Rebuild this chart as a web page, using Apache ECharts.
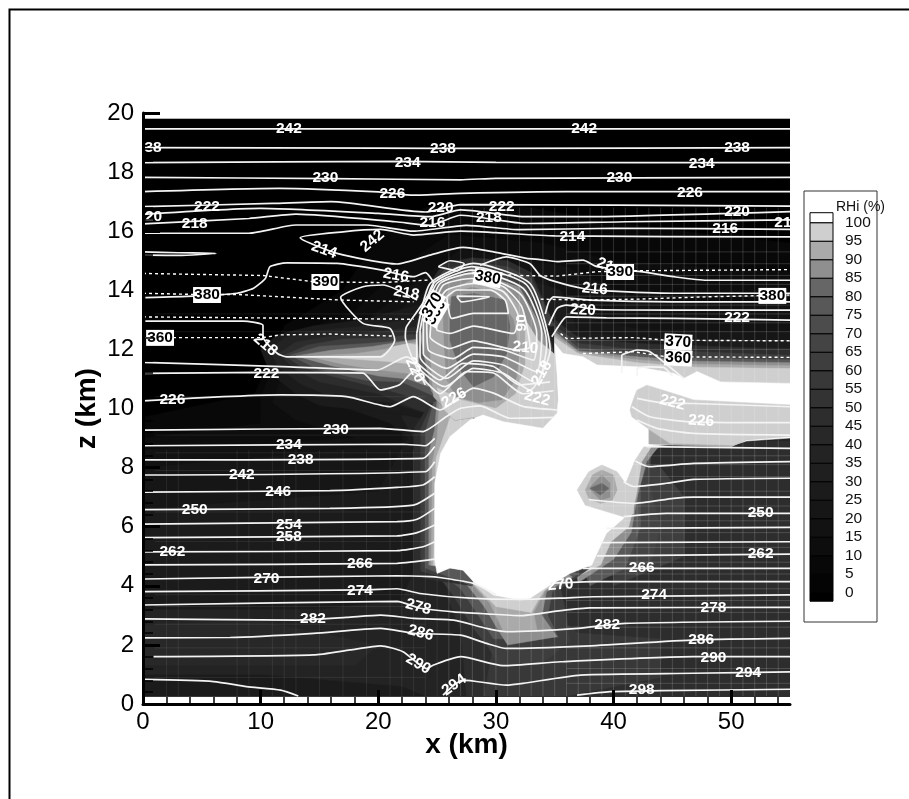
<!DOCTYPE html>
<html><head><meta charset="utf-8">
<style>html,body{margin:0;padding:0;background:#fff}#c{width:909px;height:799px}</style>
<script src="https://cdn.jsdelivr.net/npm/echarts@6/dist/echarts.min.js"></script>
</head><body><div id="c"></div>
<script>
// ---- axis ticks
const xMajor=[0,10,20,30,40,50];
const xMinor=[2,4,6,8,12,14,16,18,22,24,26,28,32,34,36,38,42,44,46,48,52,54];
// ---- grey value of each 5 % RHi class, from <0 to >100
const rhiLow=[-2.3,0,5,10,15,20,25,30,35,40,45,50,55,60,65,70,75,80,85,90,95,100];
const rhiHigh=[0,5,10,15,20,25,30,35,40,45,50,55,60,65,70,75,80,85,90,95,100,102.7];
const rhiGrey=['#000000','#040404','#080808','#0d0d0d','#121212','#161616','#1b1b1b','#1f1f1f','#232323','#282828','#2d2d2d','#333333','#383838','#3e3e3e','#444444','#4c4c4c','#585858','#666666','#8f8f8f','#aaaaaa','#cfcfcf','#ffffff'];
// ---- filled RHi regions, [rhi, outline in (x km, z km)], painted in order
const bgAll=[-1,[[0,.27],[55,.27],[55,19.8],[0,19.8]]];
const bg5=[7,[[0,.27],[55,.27],[55,15.6],[48,15.9],[40,16.3],[30,17],[24,16.8],[20,15.8],[17,14],[12,12.8],[9.5,10.5],[0,9.7]]];
const bg12=[12,[[0,.27],[55,.27],[55,14.6],[40,15],[34,15.6],[26,15.9],[22,14.8],[18,13.3],[12,12.4],[10,10.4],[10,9.5],[0,9]]];
const bg17=[17,[[0,.27],[55,.27],[55,13.5],[42,13.7],[36,14.8],[27,15.4],[23,14.2],[19,13],[13,12.3],[11,10.2],[13,9.6],[18,9],[0,8.6]]];
const bg22=[22,[[0,.27],[55,.27],[55,12.6],[42,12.7],[36,13.2],[34,14.5],[27,15.1],[24,14],[21,13.1],[14,12.6],[11.5,11],[14,10.5],[18,9.9],[22,9.6],[22,8.8],[0,8]]];
const bg27=[27,[[0,.27],[55,.27],[55,12.3],[42,12.4],[37,12.6],[35.5,14],[28,15],[24,13.5],[22,12.9],[16,12.5],[12.5,11.6],[16,10.2],[21,9.5],[22.5,9],[20,7.2],[0,6.6]]];
const bg37=[37,[[0,1],[10,1],[22,.6],[24,.27],[55,.27],[55,12.05],[45,12.1],[38,12.3],[36,12.6],[24.5,11],[22,9.7],[23,9],[23.5,5],[22,3.5],[15,3.2],[0,3.2]]];
const bgLeft42=[42,[[0,1.3],[18,1.3],[20,2],[10,2.8],[0,2.7]]];
const bgRight47=[47,[[27.5,.27],[55,.27],[55,8.9],[44,8.9],[42,9],[30,9],[26,9],[25.5,5],[26,3.5],[27,2.5]]];
const bgLow57=[57,[[29,.27],[36,.27],[44,.9],[44,2.2],[37,2.4],[35,3],[33,3],[30,2.5]]];
const arm47=[47,[[35,13],[37,12.4],[42,12.2],[55,12],[55,10],[35,10]]];
const arm62=[62,[[35,12.8],[37,12.2],[42,12],[55,11.8],[55,10],[35,10]]];
const arm77=[77,[[35,12.7],[37,12.05],[42,11.85],[47,11.7],[55,11.65],[55,10],[35,10]]];
const arm87=[87,[[35,12.6],[37,11.95],[42,11.75],[47,11.6],[55,11.55],[55,10],[35,10]]];
const arm92=[92,[[35,12.5],[37,11.9],[42,11.65],[47,11.5],[55,11.45],[55,10],[35,10]]];
const arm97=[97,[[35,12.4],[37,11.85],[42,11.55],[47,11.4],[55,11.35],[55,10],[35,10]]];
const east62=[62,[[40,4],[46,5],[46,7],[44,8],[42,8],[40,5]]];
const east67=[67,[[39,4.3],[43,4.5],[44,6],[43,7.5],[43.2,8.4],[40,8.6],[36,6]]];
const east77=[77,[[38,4],[41,4.6],[42.3,6],[42.3,7.5],[43.3,8.55],[44,8.7],[40,8.8],[36,6]]];
const east87=[87,[[37,4.1],[40,4.9],[41.5,5.8],[42,7],[42.8,8.2],[44,8.8],[40,8.9],[36,6]]];
const east97=[97,[[36,4.15],[38.9,4.7],[39.8,5.5],[41.3,6],[41.9,7],[42.4,8.2],[43.2,8.7],[40,9],[36,6]]];
const eastTop92=[92,[[43,8.8],[50,8.7],[51.3,8.95],[55,9.1],[55,10],[43,10]]];
const under62=[62,[[25,4.4],[26.5,3.6],[28,2.6],[29.4,1.9],[30.2,1.3],[34,1.4],[36.3,2.1],[36,3],[35.5,3.9],[38,4.6],[30,6],[25,5]]];
const under77=[77,[[25,4.5],[27,3.9],[28.5,3],[29.8,2.2],[35.3,2.26],[34.4,3],[34.8,3.8],[37,4.4],[30,6],[25,5]]];
const under87=[87,[[25.2,4.55],[27.5,4.05],[29,3.3],[30.2,2.5],[31,2],[35.2,2.28],[33.9,3],[34.3,3.8],[36.5,4.3],[30,6]]];
const under92=[92,[[26,4.55],[28.1,4],[29.5,3.4],[30.6,2.5],[33.5,2.5],[33.2,3.1],[34.2,3.85],[36,4.35],[30,6]]];
const under97=[97,[[26,4.6],[28,4.1],[30,3.3],[33,3.1],[34,3.8],[36,4.4],[30,6]]];
const anvil27=[27,[[10,12],[11.4,12.5],[14.5,12.8],[18.7,13],[22.4,13.4],[26,13.8],[26,9.5],[22,9.8],[15,10.1],[13,10.5],[10.8,11.2]]];
const anvil37=[37,[[10.8,11.95],[12,12.4],[15,12.65],[19,12.8],[22.4,13],[26,13],[26,9.6],[21,10.2],[16,10.4],[13.5,10.8],[11.5,11.4]]];
const anvil47=[47,[[11.5,11.85],[13,12.25],[16,12.45],[20,12.6],[26,12.9],[26,9.6],[23,10],[20,10.5],[15,10.9],[13,11.3]]];
const anvil62=[62,[[12,11.8],[14,12.15],[17,12.35],[21,12.4],[26,12.7],[26,10],[21,10.6],[16,11.1],[13.5,11.4]]];
const anvil77=[77,[[12.5,11.8],[15,12.1],[19,12.2],[22.3,12.3],[26,12.5],[26,10.2],[22,10.9],[19,10.95],[15,11.3]]];
const anvil87=[87,[[13,11.78],[16,11.97],[19.5,12.1],[22.3,12.28],[26,12.5],[26,10.5],[22.5,11],[20,11.1],[16,11.45]]];
const anvil92=[92,[[14,11.77],[18,11.85],[20.5,12],[22.5,12.2],[26,12.4],[26,10.6],[22.5,11.2],[20,11.3],[17,11.5]]];
const anvil97=[97,[[15,11.75],[20.2,11.78],[21.3,12.1],[22.6,12.2],[24,12.1],[23,11.5],[20.5,11.6]]];
const strip47=[47,[[23,4.3],[23,9.3],[24.3,10.1],[28,10.8],[28,4]]];
const strip62=[62,[[23.6,4.5],[23.6,9.3],[24.5,10.1],[28,10.8],[28,4]]];
const strip77=[77,[[24,4.6],[24,9.2],[24.7,10.2],[28,10.8],[28,4]]];
const strip87=[87,[[24.3,4.7],[24.3,8.5],[24.8,9.3],[25,10.3],[28,10.8],[28,4.5]]];
const strip92=[92,[[24.5,4.7],[24.6,8.2],[25,9],[25.2,10.2],[28,10.6],[28,4.5]]];
const strip97=[97,[[24.7,4.7],[24.9,8.3],[25.6,9.1],[26.3,9.9],[28,10.4],[28,4.5]]];
const dome47=[47,[[23,12.5],[24,14],[25.5,14.9],[28,15.1],[31,15],[33,14.6],[35,12.8]]];
const dome62=[62,[[23.2,12.5],[24.2,13.9],[25.6,14.7],[28,14.95],[31,14.8],[33,14.4],[35,12.8]]];
const dome77=[77,[[23.3,12.6],[24,13.6],[25,14.2],[28,14.8],[32.5,14.1],[34.5,12.5],[35.1,11.5],[35.3,10],[34.9,9.3],[32,9.4],[30,9.6],[28,9.7],[26.5,9.6],[24.7,10.4],[23.5,11.5]]];
const domeOuter87=[87,[[23.6,12.4],[24.3,13.5],[25.3,14.2],[28,14.65],[32,14.1],[33.8,12.8],[34.6,11.9],[34,10],[30,9.7],[26,9.8],[24.5,10.6]]];
const dome92=[92,[[24.3,12.4],[24.9,13.4],[26,14],[28,14.35],[30.5,14.1],[32,13.5],[33.6,12],[35,11.5],[35.3,10],[34.9,9.3],[32,9.4],[30,9.6],[28,9.7],[26.5,9.6],[24.7,10.4]]];
const dome97=[97,[[32.5,13],[33.6,12.3],[35.1,11.8],[35.3,10],[34.9,9.3],[32,9.4],[30,9.6],[28,9.7],[26.5,9.6],[25.5,10],[25,10.7],[27,10.3],[30,10],[31.7,10.5],[32.5,11.5]]];
const dome87=[87,[[25.6,12.2],[25.5,13.4],[26.5,13.95],[28,14.1],[30,13.9],[31.5,13],[32,11.8],[31.7,11],[30.5,10.3],[28.5,10.2],[26.6,10.4],[25.8,11]]];
const dome82=[82,[[26.1,13.2],[26.24,13.78],[28.09,13.89],[30.78,13.67],[31.2,12.77],[30.92,11.86],[29.79,11.07],[28.09,10.74],[26.95,11.3],[26.1,12.3]]];
const cloud101=[101,[[35,12.2],[35.7,11.86],[37.4,11.75],[38.6,11.47],[42,11.41],[45.1,11.19],[46,11.02],[47.1,11.25],[49.1,10.9],[55,10.85],[55,9],[51.3,8.9],[50.2,8.76],[44.8,8.77],[42.55,8.71],[41.8,8.26],[41,7.47],[40.85,6.28],[39.4,5.78],[38.6,5.1],[38.15,4.7],[36.3,4.42],[34.6,4.03],[32.9,3.58],[32.06,3.52],[29.8,3.69],[28.1,4.14],[27.2,4.53],[26.1,4.6],[25,4.42],[24.8,4.87],[24.8,7.47],[25.3,8.48],[26.1,9.05],[27.8,9.61],[28.9,9.78],[30.65,9.55],[34,9.33],[35.2,9.84],[35.3,10.29],[35.2,11.08]]];
const isle97=[97,[[41.4,9.95],[41.56,9.72],[43.1,9.27],[44.8,8.82],[50.2,8.76],[51.3,8.93],[55,9.05],[55,10.12],[46.8,10.29],[45.1,10.51],[42.83,10.79],[41.98,10.62],[41.56,10.17]]];
const hole97=[97,[[36.9,7.24],[37.9,7.86],[39,8.09],[40.3,7.86],[41,7.47],[41.7,7],[41.7,6.45],[40.85,6.34],[38.9,6.57],[37.6,6.73]]];
const hole92=[92,[[37.6,7.24],[38.2,7.75],[39,7.92],[40,7.75],[40.3,7.24],[39.9,6.9],[38.9,6.79],[37.9,6.96]]];
const hole87=[87,[[37.9,7.3],[39,7.75],[39.7,7.47],[39.7,7],[38.9,6.9]]];
const hole82=[82,[[38,7.3],[39,7.47],[39.6,7.3],[38.9,7.07]]];
const fillLayers=[bgAll,bg5,bg12,bg17,bg22,bg27,bg37,bgLeft42,bgRight47,bgLow57,arm47,arm62,arm77,arm87,arm92,arm97,east62,east67,east77,east87,east97,under62,under77,under87,under92,under97,anvil27,anvil37,anvil47,anvil62,anvil77,anvil87,anvil92,anvil97,strip47,strip62,strip77,strip87,strip92,strip97,dome47,dome62,dome77,domeOuter87,dome92,dome97,dome87,dome82,cloud101,eastTop92,isle97,hole97,hole92,hole87,hole82];
// ---- faint model mesh
const meshColumns=[26,27,28,29,30,31,32,33,34,35,36,37,38,39,40,41,42,43,44,45,46,47,48,49,50,51,52,53,54];
const meshColumnsLow=[2,3,8,9,11,12,13,15,17,19,21,22,23,24,25];
const meshRowsEast=[.7,1.2,1.9,2.6,3.1,3.5,3.9,4.4,4.8,5.3,5.8,6.2,6.7,7.2,7.7,8.1,8.4,12,12.3,12.6,12.9,13.2,13.5,13.8,14.2,14.5,14.9,15.3];
const meshRowsWest=[.9,1.9,2.7,3.3,3.7,5.5,6.5,7.9,8.5,9.1,10.4,11.2,12.6,13.2];
// ---- temperature contours (K), [x km, z km]
const t242=[[0,19.46],[55,19.46]];
const t238=[[0,18.83],[20,18.81],[30,18.8],[55,18.83]];
const t234=[[0,18.32],[22,18.36],[30,18.33],[55,18.32]];
const t230=[[0,17.82],[16,17.78],[27,17.74],[30,17.79],[55,17.82]];
const t226=[[0,17.34],[11.6,17.45],[20,17.33],[23,17.22],[27,17.28],[36,17.34],[55,17.34]];
const t222=[[0,16.83],[11,16.94],[16,17],[24,16.65],[27,16.9],[55,16.85]];
const t220=[[0,16.57],[10,16.77],[20,16.6],[24.4,16.49],[27,16.72],[32.6,16.49],[38,16.49],[50,16.6],[55,16.66]];
const t218=[[0,16.25],[9,16.43],[13,16.58],[21.5,16.32],[24.4,16.2],[27,16.54],[32.6,16.26],[41,16.32],[55,16.38]];
const t216=[[0,15.93],[9,15.93],[13,16.21],[19,16.21],[23,16],[27.5,16.2],[32,16.05],[40,16.1],[55,16.06]];
const t214=[[55,15.81],[35,15.84],[30,15.95],[27,16],[23,15.87],[20.2,16.06],[17,15.98],[13.36,15.78],[16.5,15.25],[21.6,14.89],[24.4,15.19],[27.2,15.45],[29.8,15.3],[32.6,15.08],[33.76,15.04],[35.2,14.97],[37.4,15.02],[38.6,14.8],[42.3,14.63],[45.1,14.46],[47.9,14.34],[55,14.34]];
const sliver=[[0,15.3],[3,15.27],[6.2,15.25],[3,15.18],[0,15.2]];
const t216West=[[0.2,13.75],[4.3,13.8],[8,13.9],[9.4,14.07],[10.4,14.4],[10.8,14.8],[12.2,14.93],[16.5,14.91],[20.2,14.69],[23,14.46],[24,14.6],[24.7,14.23],[23.6,13.45],[22.4,12.77],[22.3,12.43],[23,11.6],[24,10.8]];
const t216East=[[28.65,14.85],[30.9,15.13],[32.9,14.9],[33.76,14.5],[35,14.3],[37.4,14.06],[39.4,13.98],[45.1,13.9],[55,13.9]];
const t218West=[[0.2,12.96],[8.5,12.96],[10.2,12.82],[10.2,12.43],[11.4,11.87],[12.2,11.75],[20.2,11.75],[21.4,12.32],[21,12.71],[18.7,12.88],[16.8,13.76],[18.7,14.12],[20.4,14.18],[23.3,13.67]];
const t218East=[[34.2,13.2],[34.5,13.61],[34.9,13.78],[38,13.67],[45.1,13.61],[55,13.61]];
const t220East=[[34.5,12.82],[35.2,13.39],[36,13.5],[38.6,13.35],[45.1,13.33],[55,13.33]];
const t222East=[[34.75,12.43],[35.3,12.77],[36,13.1],[39.4,13.07],[45.1,13.05],[55,12.99]];
const t220West=[[0,11.56],[12.5,11.41],[19.9,11.3],[22.4,11.75],[25.25,10.97],[27.2,11.53],[29.8,11.42],[32,10.8],[34.6,10.9]];
const t222West=[[0,11.19],[10,11.22],[18.7,11.2],[20.15,10.63],[21.8,10.8],[23,11.25],[25.25,10.5],[27.5,11.25],[29.8,11.2],[32.3,10.5],[34.9,10.6]];
const t226West=[[0,10.26],[11.65,10.46],[17.3,10.4],[21,10.06],[23,10.4],[25.25,9.95],[28.1,10.69],[29.8,10.52],[32.3,10.07],[35.2,9.95]];
const t230West=[[0,9.27],[20.15,9.33],[23.8,9.22],[25.8,9.73],[26.95,10],[28.65,10.09],[31.2,9.67],[34.9,9.7]];
const t222Isle=[[42,10.34],[44,10.2],[46.8,10.17],[55,10.06]];
const t226Isle=[[41.56,10.06],[43.1,9.72],[46.5,9.55],[55,9.52]];
const t230Isle=[[42,9.61],[43.7,9.33],[46.8,9.16],[55,9.1]];
const t234West=[[0,8.74],[22.1,8.79],[24,8.74],[24.8,8.99]];
const t234East=[[42.8,8.71],[55,8.65]];
const t238West=[[0,8.26],[23.8,8.31],[24.8,8.71]];
const t238East=[[41.84,8.22],[43,8.03],[46.8,8.14],[55,8.2]];
const t242West=[[0,7.75],[24,7.86],[24.8,8.2]];
const t242East=[[40.85,7.52],[41.7,7.36],[44.5,7.47],[46.8,7.6],[55,7.64]];
const t246West=[[0,7.17],[15.9,7.22],[21.6,7.33],[23.8,7.41],[24.8,7.69]];
const t246East=[[37.9,6.92],[41.7,6.79],[45.1,6.96],[46.8,7],[51,7],[55,7]];
const t250West=[[0,6.58],[15.9,6.62],[23,6.73],[24.8,7.13]];
const t250East=[[40.85,6.34],[44.5,6.45],[55,6.45]];
const t254West=[[0,6.09],[21.6,6.17],[23.3,6.25],[24.8,6.62]];
const t254East=[[39.4,5.94],[55,5.98]];
const t258West=[[0,5.63],[21.6,5.69],[23.3,5.8],[24.8,6.06]];
const t258East=[[38.9,5.46],[55,5.49]];
const t262West=[[0,5.15],[21.6,5.19],[23.8,5.32],[24.8,5.49]];
const t262East=[[38.6,5.01],[55,5.07]];
const t266West=[[0,4.71],[21.6,4.76],[24.8,4.9]];
const t266East=[[37.4,4.59],[55,4.59]];
const t270West=[[0,4.23],[21.6,4.34],[24.4,4.31],[25.2,4.28],[28.1,4.08],[30,3.7]];
const t270East=[[34.6,4.08],[38.3,4.14],[55,4.14]];
const t274=[[0,3.8],[18.7,3.86],[21.6,3.9],[23.55,3.74],[27.8,3.58],[32,3.54],[35.5,3.58],[38.3,3.63],[55,3.69]];
const t278=[[0,3.35],[21.6,3.47],[23.55,3.24],[26.4,3.12],[29.2,3.05],[32,2.99],[35.5,3.16],[38,3.25],[55,3.27]];
const t282=[[0,2.88],[13,2.84],[17.3,2.93],[20.2,3.01],[23,2.9],[26.4,2.84],[29.2,2.56],[30.9,2.45],[37,2.56],[41,2.73],[55,2.8]];
const t286=[[0,2.24],[7.4,2.25],[14.5,2.39],[20.2,2.56],[23,2.39],[27,2.33],[29.2,2.05],[30.9,1.88],[37.5,1.96],[47,2.17],[55,2.22]];
const t290=[[0.9,1.6],[14.5,1.66],[17.6,1.83],[20.2,1.97],[22.1,1.77],[24.1,1.2],[24.7,1.32],[27,1.6],[30.6,1.3],[35.5,1.43],[46.8,1.6],[55,1.6]];
const t294West=[[0,.83],[6,.76],[8.8,.59],[11.7,.47],[13.2,.27]];
const t294East=[[25.5,.3],[27.2,.81],[30.9,.64],[32.3,.7],[37.2,.98],[46.8,1.04],[55,1.09]];
const t298=[[36.9,.3],[39.7,.42],[44,.45],[55,.5]];
const armA=[[40.7,11.2],[40.7,11.8],[41,11.86],[42,11.98],[43.1,11.92],[46,11]];
const armB=[[42,11.1],[42,11.36],[43.1,11.41],[44.25,11.39],[45,11.1]];
const capA=[[25.1,14.8],[26.1,15],[27.3,14.9],[26.7,14.66],[25.1,14.8]];
const ring0=[[26.67,13.8],[29.45,13.78],[27.09,13.61],[26.67,13.8]];
const ring1=[[25.82,13.78],[26.24,13.05],[28.09,13.22],[31.06,13.22],[30.78,13.67],[29.5,14.01],[26.67,14.01],[25.82,13.78]];
const ring2=[[24.97,12.65],[26.1,12.54],[28.09,12.79],[31.49,12.54],[31.91,13.1],[30.64,13.95],[28.09,14.23],[25.82,14.01],[24.97,13.44],[24.97,12.65]];
const ring3=[[24.54,13.22],[24.4,12.43],[26.1,12.03],[28.09,12.29],[31.77,11.98],[32.9,12.09],[32.2,13.44],[30.64,14.12],[27.94,14.4],[25.54,14.18],[24.54,13.22]];
const ring4=[[24.12,12.99],[24.26,11.98],[26.39,11.69],[28.09,12.07],[30.64,11.98],[33.19,11.64],[33.47,12.54],[32.05,13.89],[27.94,14.57],[25.25,14.23],[24.12,12.99]];
const ring5=[[23.83,12.88],[23.83,11.86],[25.82,11.36],[28.09,11.84],[30.64,11.75],[33.47,11.24],[33.9,12.54],[32.34,14.06],[27.94,14.68],[24.97,14.23],[23.83,12.88]];
const ring6=[[23.55,12.65],[23.55,11.75],[25.82,11.02],[28.09,11.61],[30.64,11.47],[33.47,10.85],[34.32,12.2],[32.62,14.18],[27.94,14.8],[24.68,14.23],[23.55,12.65]];
const ring7=[[23.27,12.54],[23.27,11.52],[25.68,10.74],[28.09,11.36],[30.64,11.19],[32.9,10.62],[34.61,11.98],[32.9,14.23],[28.09,14.91],[24.4,14.23],[23.27,12.54]];
const solidContours=[t242,t238,t234,t230,t226,t222,t220,t218,t216,t214,sliver,t216West,t216East,t218West,t218East,t220East,t222East,t220West,t222West,t226West,t230West,t222Isle,t226Isle,t230Isle,t234West,t234East,t238West,t238East,t242West,t242East,t246West,t246East,t250West,t250East,t254West,t254East,t258West,t258East,t262West,t262East,t266West,t266East,t270West,t270East,t274,t278,t282,t286,t290,t294West,t294East,t298,armA,armB,capA,ring0,ring1,ring2,ring3,ring4,ring5,ring6,ring7];
// ---- potential temperature contours (K), dashed
const th390West=[[0,14.57],[10.2,14.5],[14.5,14.29],[20.2,14.26],[24.4,14.35]];
const th390East=[[28,14.6],[32,14.5],[35.2,14.48],[38.6,14.63],[41.7,14.66],[55,14.7]];
const th380West=[[0,13.9],[4.3,13.86],[8,13.86],[16.8,13.67],[23,13.61]];
const th380East=[[33.8,13.7],[37.4,13.67],[42,13.7],[47.9,13.78],[55,13.84]];
const th370West=[[0,13.1],[23,13.02]];
const th370East=[[35.5,12.54],[36,12.37],[41.7,12.4],[44.5,12.31],[55,12.29]];
const th360West=[[0,12.4],[10.2,12.4],[11.65,12.49],[15.9,12.52],[21.3,12.45]];
const th360East=[[37.4,11.86],[41.7,11.92],[44.5,11.75],[55,11.73]];
const dashedContours=[th390West,th390East,th380West,th380East,th370West,th370East,th360West,th360East];
// ---- contour labels: x, z, text, rotation
const tempLabels=[[12.4,19.46,'242',0],[37.5,19.46,'242',0],[.85,18.82,'38',0],[25.5,18.78,'238',0],[50.5,18.82,'238',0],[22.5,18.31,'234',0],[47.5,18.27,'234',0],[15.5,17.8,'230',0],[40.5,17.8,'230',0],[21.2,17.26,'226',0],[46.5,17.29,'226',0],[5.44,16.82,'222',0],[30.5,16.82,'222',0],[25.3,16.79,'220',0],[.9,16.5,'20',0],[50.5,16.65,'220',0],[4.4,16.24,'218',0],[29.4,16.45,'218',0],[54.4,16.3,'21',0],[24.6,16.3,'216',0],[49.5,16.1,'216',0],[15.4,15.36,'214',-20],[36.5,15.8,'214',0],[19.5,15.67,'242',40],[21.5,14.5,'216',-10],[22.4,13.9,'218',-10],[38.4,14.04,'216',-5],[37.4,13.33,'220',-3],[39.3,14.85,'21',-20],[50.5,13.06,'222',0],[32.5,12.05,'210',-5],[32.2,12.9,'90',90],[10.4,12.15,'218',-40],[10.5,11.17,'222',0],[2.5,10.29,'226',0],[16.4,9.27,'230',0],[12.4,8.76,'234',0],[13.4,8.26,'238',0],[8.4,7.75,'242',0],[11.5,7.17,'246',0],[4.4,6.56,'250',0],[12.4,6.06,'254',0],[12.4,5.65,'258',0],[2.5,5.14,'262',0],[18.45,4.74,'266',0],[10.5,4.23,'270',0],[18.45,3.82,'274',0],[23.4,3.28,'278',-15],[14.45,2.88,'282',0],[23.6,2.4,'286',-15],[23.4,1.35,'290',-30],[26.45,.64,'294',35],[23.1,11.3,'220',-65],[26.45,10.35,'226',30],[33.5,10.35,'222',-15],[33.9,11.2,'218',60],[45,10.2,'222',-15],[47.45,9.58,'226',-3],[52.5,6.46,'250',0],[52.5,5.08,'262',0],[42.4,4.6,'266',0],[35.5,4.03,'270',5],[43.45,3.69,'274',0],[48.5,3.25,'278',0],[39.45,2.67,'282',0],[47.45,2.17,'286',0],[48.5,1.56,'290',0],[51.45,1.05,'294',0],[42.4,.47,'298',0]];
const thetaLabels=[[15.5,14.28,'390',0],[5.44,13.84,'380',0],[1.45,12.39,'360',0],[40.56,14.62,'390',0],[53.5,13.81,'380',0],[45.5,12.25,'370',-3],[45.5,11.71,'360',-3],[24.9,13.25,'360',60],[24.6,13.5,'370',60],[29.3,14.42,'380',-10]];

const FONT='"Liberation Sans", Arial, sans-serif';
const colorOf=r=>{for(let i=0;i<rhiLow.length;i++)if(r>=rhiLow[i]&&r<rhiHigh[i])return rhiGrey[i];return r<0?'#000000':'#ffffff';};

const meshEast=[],meshWest=[];
meshColumns.forEach(x=>{meshEast.push([x,.27],[x,16.8],['-','-']);});
meshRowsEast.forEach(z=>{meshEast.push([36,z],[55,z],['-','-']);});
meshColumnsLow.forEach(x=>{meshWest.push([x,.27],[x,8.6],['-','-']);});
meshRowsWest.forEach(z=>{meshWest.push([1,z],[24,z],['-','-']);});

const series=[];
series.push({type:'custom',coordinateSystem:'cartesian2d',xAxisIndex:0,yAxisIndex:0,z:1,clip:true,silent:true,
  data:fillLayers.map((l,i)=>[l[1][0][0],l[1][0][1],i]),
  encode:{x:0,y:1},
  renderItem:(p,api)=>{const l=fillLayers[api.value(2)];const c=colorOf(l[0]);
    return {type:'polygon',shape:{points:l[1].map(q=>api.coord(q))},style:{fill:c,stroke:c,lineWidth:.5}};}
});
series.push({type:'line',xAxisIndex:0,yAxisIndex:0,z:2,silent:true,symbol:'none',data:meshEast,lineStyle:{color:'rgba(255,255,255,0.16)',width:1},animation:false});
series.push({type:'line',xAxisIndex:0,yAxisIndex:0,z:2,silent:true,symbol:'none',data:meshWest,lineStyle:{color:'rgba(255,255,255,0.08)',width:1},animation:false});
solidContours.forEach(c=>series.push({type:'line',xAxisIndex:0,yAxisIndex:0,z:3,silent:true,symbol:'none',smooth:.2,data:c,lineStyle:{color:'#f4f4f4',width:1.7},animation:false}));
dashedContours.forEach(c=>series.push({type:'line',xAxisIndex:0,yAxisIndex:0,z:3,silent:true,symbol:'none',data:c,lineStyle:{color:'#fff',width:1.4,type:[3,3]},animation:false}));
const labelSeries=(rows,style)=>({type:'scatter',xAxisIndex:0,yAxisIndex:0,z:5,silent:true,symbolSize:1,itemStyle:{color:'rgba(0,0,0,0)',opacity:1},animation:false,
  data:rows.map(r=>({value:[r[0],r[1]],label:{show:true,position:'inside',formatter:r[2],rotate:r[3],fontFamily:FONT,fontWeight:'bold',fontSize:15.5,...style}}))});
series.push(labelSeries(tempLabels,{color:'#fff'}));
series.push(labelSeries(thetaLabels,{color:'#000',backgroundColor:'#fff',padding:[0,1]}));
series.push({type:'custom',coordinateSystem:'cartesian2d',xAxisIndex:2,yAxisIndex:1,clip:false,silent:true,z:3,
  data:rhiLow.map((v,i)=>[0,v,rhiHigh[i],i]),encode:{x:0,y:1},
  renderItem:(p,api)=>{const a=api.coord([0,api.value(1)]),b=api.coord([1,api.value(2)]);
    return {type:'rect',shape:{x:a[0],y:b[1],width:b[0]-a[0],height:a[1]-b[1]},style:{fill:rhiGrey[api.value(3)],stroke:'#000',lineWidth:1}};}
});

const chart=echarts.init(document.getElementById('c'),null,{renderer:'canvas'});
chart.setOption({
  animation:false,backgroundColor:'#fff',
  title:{text:'RHi (%)',left:831,top:195,textStyle:{fontFamily:FONT,fontSize:14,fontWeight:'normal',color:'#111'}},
  graphic:[
    {type:'polyline',shape:{points:[[9.5,799],[9.5,9.5],[909,9.5]]},style:{stroke:'#000',fill:null,lineWidth:2},z:0},
    {type:'rect',shape:{x:804,y:191,width:73,height:431},style:{stroke:'#333',fill:'#fff',lineWidth:1},z:0}
  ],
  grid:[{left:143,top:113,width:647,height:591},{left:810,top:222.7,width:23,height:370}],
  xAxis:[
    {type:'value',gridIndex:0,min:0,max:55,z:10,position:'bottom',name:'x (km)',nameLocation:'middle',nameGap:27,nameMoveOverlap:false,
     nameTextStyle:{fontFamily:FONT,fontSize:28,fontWeight:'bold',color:'#000'},
     axisLine:{lineStyle:{color:'#000',width:3}},splitLine:{show:false},
     axisTick:{inside:true,length:14,lineStyle:{color:'#000',width:3},customValues:xMajor},
     axisLabel:{customValues:xMajor,margin:6,fontFamily:FONT,fontSize:24,color:'#000'}},
    {type:'value',gridIndex:0,min:0,max:55,z:10,position:'bottom',axisLine:{show:false},splitLine:{show:false},
     axisTick:{inside:true,length:7,lineStyle:{color:'#000',width:1.5},customValues:xMinor},axisLabel:{show:false}},
    {type:'value',gridIndex:1,min:0,max:1,show:false}
  ],
  yAxis:[
    {type:'value',gridIndex:0,min:0,max:20,interval:2,z:10,name:'z (km)',nameLocation:'middle',nameGap:42,nameMoveOverlap:false,
     nameTextStyle:{fontFamily:FONT,fontSize:28,fontWeight:'bold',color:'#000'},
     axisLine:{show:true,lineStyle:{color:'#000',width:3}},splitLine:{show:false},
     axisTick:{show:true,inside:true,length:17,lineStyle:{color:'#000',width:3}},
     minorTick:{show:true,splitNumber:5,length:10,lineStyle:{color:'#000',width:1.5}},
     minorSplitLine:{show:false},
     axisLabel:{margin:9,fontFamily:FONT,fontSize:24,color:'#000'}},
    {type:'value',gridIndex:1,min:0,max:100,interval:5,position:'right',
     axisLine:{show:false},axisTick:{show:false},splitLine:{show:false},
     axisLabel:{margin:12,fontFamily:FONT,fontSize:15.5,color:'#111'}}
  ],
  series
});
</script></body></html>
